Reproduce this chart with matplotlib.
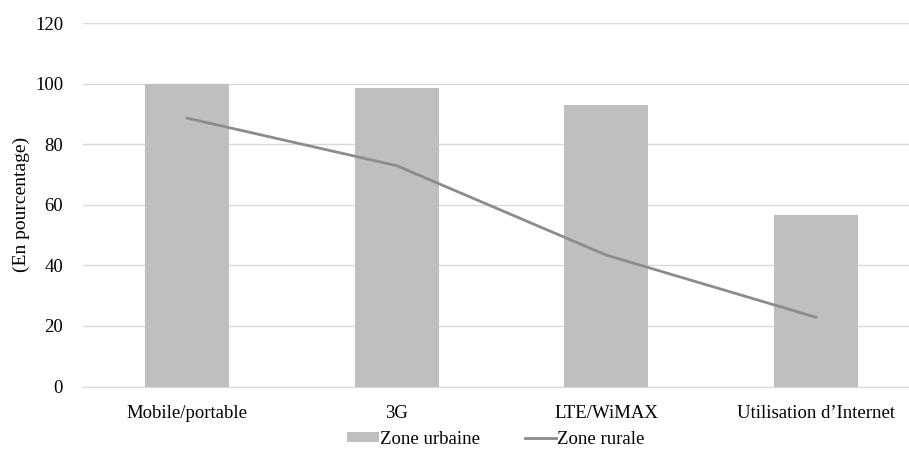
import numpy as np
import matplotlib
matplotlib.use('Agg')
import matplotlib.pyplot as plt

# Données
categories = ['Mobile/portable', '3G', 'LTE/WiMAX', 'Utilisation d\u2019Internet']
zone_urbaine = [100, 98.5, 92.9, 56.5]
zone_rurale = [88.6, 72.9, 43.4, 22.9]
y_ticks = [0, 20, 40, 60, 80, 100, 120]

plt.rcParams['font.family'] = ['Liberation Serif', 'DejaVu Serif']
plt.rcParams['font.size'] = 13.5

fig = plt.figure(figsize=(9.09, 4.53), dpi=100)
ax = fig.add_axes([82.5 / 909, 1 - 386.6 / 453, 1 - 82.5 / 909, (386.6 - 23) / 453])

x = np.arange(len(categories))
barres = ax.bar(x, zone_urbaine, width=0.4, color='#bfbfbf', label='Zone urbaine', zorder=2)
ligne, = ax.plot(x, zone_rurale, color='#8c8c8c', linewidth=2.0, label='Zone rurale', zorder=3)

ax.set_ylim(0, 120)
ax.set_xlim(-0.5, 3.445)
ax.set_yticks(y_ticks)
ax.set_xticks(x)
ax.set_xticklabels(categories)
ax.yaxis.grid(True, color='#d9d9d9', linewidth=1.0, zorder=0)
ax.set_axisbelow(True)
for s in ['top', 'right', 'left']:
    ax.spines[s].set_visible(False)
ax.spines['bottom'].set_color('#d9d9d9')
ax.tick_params(axis='x', length=0, pad=13)
ax.tick_params(axis='y', length=0, pad=14)
ax.set_ylabel('(En pourcentage)', fontsize=14)
ax.yaxis.set_label_coords(-0.0635, 0.502)

ax.legend([barres, ligne], ['Zone urbaine', 'Zone rurale'], loc='center',
          bbox_to_anchor=(0.5, -0.145), ncol=2, frameon=False,
          handlelength=1.7, handleheight=0.45, handletextpad=0.05, columnspacing=2.4)

fig.savefig('out.png', dpi=100)
